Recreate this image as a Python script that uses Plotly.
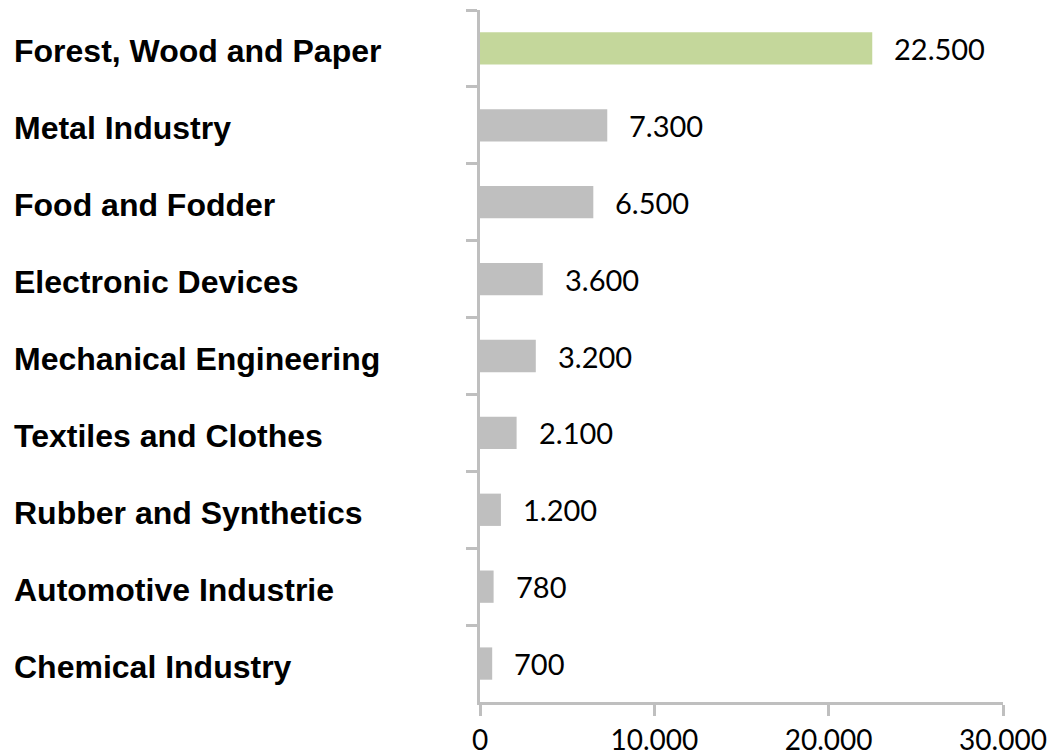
import plotly.graph_objects as go

categories = ["Forest, Wood and Paper", "Metal Industry", "Food and Fodder",
              "Electronic Devices", "Mechanical Engineering", "Textiles and Clothes",
              "Rubber and Synthetics", "Automotive Industrie", "Chemical Industry"]
values = [22500, 7300, 6500, 3600, 3200, 2100, 1200, 780, 700]
value_labels = ["22.500", "7.300", "6.500", "3.600", "3.200", "2.100", "1.200", "780", "700"]
x_tickvals = [0, 10000, 20000, 30000]
x_ticktext = ["0", "10.000", "20.000", "30.000"]

colors = ["#C4D79B"] + ["#BFBFBF"] * (len(categories) - 1)

fig = go.Figure()
fig.add_trace(go.Bar(
    x=values, y=categories, orientation="h",
    marker=dict(color=colors, line=dict(width=0)),
    width=0.42, hoverinfo="skip",
))

for cat, v, lab in zip(categories, values, value_labels):
    fig.add_annotation(x=v, y=cat, text=lab, xanchor="left", yanchor="middle",
                       xshift=20, showarrow=False,
                       font=dict(family="Lato", size=29, color="#000000"))
    fig.add_annotation(x=-0.895, xref="paper", y=cat, text="<b>%s</b>" % cat,
                       xanchor="left", yanchor="middle", yshift=-3, showarrow=False,
                       font=dict(family="Liberation Sans", size=32, color="#000000"))

fig.update_layout(
    width=1051, height=756,
    margin=dict(l=480, r=48, t=10, b=54, autoexpand=False),
    paper_bgcolor="white", plot_bgcolor="white",
    showlegend=False,
    xaxis=dict(range=[0, 30000], tickvals=x_tickvals, ticktext=x_ticktext,
               automargin=False,
               showgrid=False, zeroline=False, showline=True, linecolor="#BFBFBF",
               linewidth=3, ticks="outside", ticklen=11, tickwidth=3, tickcolor="#BFBFBF",
               tickfont=dict(family="Lato", size=28, color="#000000")),
    yaxis=dict(categoryorder="array", categoryarray=categories, autorange="reversed",
               automargin=False,
               showgrid=False, zeroline=False, showline=True, linecolor="#BFBFBF",
               linewidth=3, ticks="outside", ticklen=11, tickwidth=3, tickcolor="#BFBFBF",
               tickson="boundaries", showticklabels=False),
)

fig.write_html("out.html", config={"displayModeBar": False},
               post_script="document.body.style.margin='0';document.body.style.overflow='hidden';")
